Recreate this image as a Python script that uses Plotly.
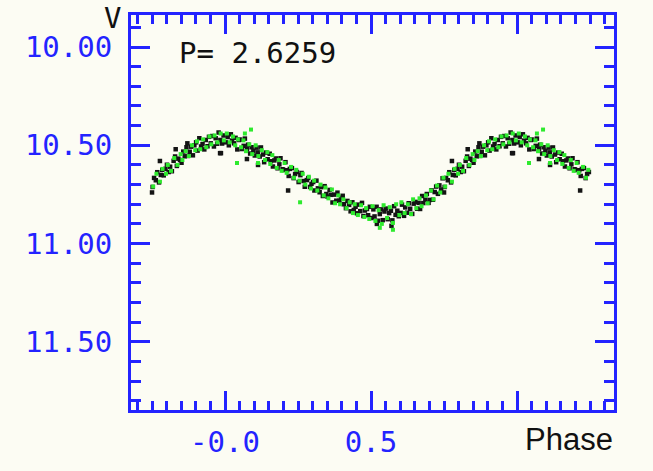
import numpy as np
import plotly.graph_objects as go

# Folded light curve (V magnitude vs phase), base phases in 0..1
black_phase = [
    0.003, 0.009, 0.013, 0.020, 0.024, 0.031, 0.036, 0.042, 0.047,
    0.052, 0.057, 0.064, 0.068, 0.075, 0.079, 0.086, 0.091, 0.097,
    0.102, 0.108, 0.112, 0.119, 0.123, 0.130, 0.134, 0.141, 0.146,
    0.153, 0.157, 0.164, 0.169, 0.174, 0.180, 0.186, 0.190, 0.197,
    0.201, 0.207, 0.213, 0.218, 0.222, 0.229, 0.235, 0.240, 0.246,
    0.252, 0.258, 0.262, 0.269, 0.273, 0.280, 0.285, 0.291, 0.296,
    0.302, 0.306, 0.313, 0.318, 0.324, 0.329, 0.335, 0.341, 0.347,
    0.351, 0.358, 0.363, 0.368, 0.374, 0.381, 0.385, 0.392, 0.397,
    0.403, 0.407, 0.414, 0.419, 0.425, 0.430, 0.436, 0.441, 0.447,
    0.452, 0.456, 0.463, 0.469, 0.474, 0.479, 0.486, 0.490, 0.496,
    0.503, 0.508, 0.512, 0.519, 0.524, 0.530, 0.535, 0.540, 0.546,
    0.551, 0.557, 0.562, 0.568, 0.573, 0.579, 0.584, 0.590, 0.595,
    0.602, 0.606, 0.613, 0.617, 0.624, 0.629, 0.634, 0.641, 0.646,
    0.652, 0.658, 0.663, 0.668, 0.675, 0.679, 0.686, 0.691, 0.697,
    0.701, 0.707, 0.712, 0.718, 0.723, 0.729, 0.734, 0.740, 0.745,
    0.752, 0.757, 0.763, 0.768, 0.774, 0.780, 0.785, 0.790, 0.796,
    0.801, 0.807, 0.812, 0.818, 0.824, 0.829, 0.835, 0.840, 0.846,
    0.851, 0.857, 0.862, 0.868, 0.873, 0.879, 0.884, 0.890, 0.895,
    0.901, 0.906, 0.912, 0.918, 0.923, 0.929, 0.934, 0.940, 0.945,
    0.951, 0.956, 0.962, 0.968, 0.973, 0.978, 0.984, 0.990, 0.995,
    0.831, 0.871, 0.777, 0.983, 0.750, 0.075, 0.216, 0.986, 0.113, 0.520, 0.570,
]
black_mag = [
    10.485, 10.458, 10.500, 10.444, 10.476, 10.490, 10.462, 10.521, 10.473,
    10.471, 10.519, 10.503, 10.466, 10.520, 10.497, 10.542, 10.510, 10.528,
    10.552, 10.512, 10.536, 10.557, 10.511, 10.547, 10.586, 10.537, 10.571,
    10.543, 10.581, 10.608, 10.577, 10.567, 10.617, 10.597, 10.566, 10.622,
    10.626, 10.586, 10.627, 10.656, 10.620, 10.616, 10.667, 10.646, 10.636,
    10.687, 10.652, 10.641, 10.682, 10.711, 10.677, 10.667, 10.712, 10.696,
    10.687, 10.730, 10.680, 10.719, 10.739, 10.713, 10.758, 10.708, 10.748,
    10.761, 10.727, 10.752, 10.791, 10.751, 10.782, 10.741, 10.782, 10.767,
    10.757, 10.800, 10.820, 10.783, 10.803, 10.836, 10.790, 10.829, 10.813,
    10.846, 10.802, 10.835, 10.793, 10.860, 10.832, 10.824, 10.856, 10.813,
    10.870, 10.826, 10.862, 10.813, 10.884, 10.850, 10.826, 10.881, 10.837,
    10.822, 10.876, 10.845, 10.833, 10.882, 10.810, 10.854, 10.833, 10.861,
    10.844, 10.802, 10.859, 10.816, 10.843, 10.795, 10.823, 10.849, 10.797,
    10.788, 10.823, 10.793, 10.824, 10.758, 10.794, 10.777, 10.748, 10.793,
    10.778, 10.729, 10.777, 10.738, 10.710, 10.747, 10.704, 10.725, 10.668,
    10.712, 10.666, 10.678, 10.637, 10.689, 10.651, 10.625, 10.653, 10.620,
    10.599, 10.636, 10.609, 10.632, 10.579, 10.557, 10.605, 10.568, 10.575,
    10.589, 10.532, 10.556, 10.510, 10.554, 10.533, 10.507, 10.551, 10.500,
    10.485, 10.527, 10.464, 10.506, 10.494, 10.521, 10.473, 10.505, 10.457,
    10.490, 10.453, 10.506, 10.464, 10.492, 10.435, 10.473, 10.491, 10.450,
    10.520, 10.490, 10.580, 10.540, 10.740, 10.570, 10.730, 10.540, 10.600, 10.900, 10.910,
]

green_phase = [
    0.006, 0.016, 0.027, 0.035, 0.044,
    0.055, 0.063, 0.072, 0.083, 0.093,
    0.105, 0.114, 0.126, 0.137, 0.145,
    0.155, 0.162, 0.177, 0.184, 0.194,
    0.204, 0.211, 0.226, 0.236, 0.244,
    0.255, 0.266, 0.275, 0.287, 0.294,
    0.305, 0.316, 0.327, 0.338, 0.344,
    0.354, 0.366, 0.377, 0.388, 0.394,
    0.405, 0.416, 0.427, 0.438, 0.444,
    0.455, 0.466, 0.477, 0.483, 0.494,
    0.505, 0.515, 0.526, 0.537, 0.543,
    0.555, 0.564, 0.575, 0.586, 0.597,
    0.604, 0.615, 0.626, 0.637, 0.644,
    0.655, 0.666, 0.673, 0.688, 0.694,
    0.705, 0.714, 0.726, 0.737, 0.748,
    0.754, 0.765, 0.777, 0.786, 0.798,
    0.804, 0.815, 0.826, 0.837, 0.848,
    0.854, 0.865, 0.876, 0.887, 0.898,
    0.904, 0.915, 0.925, 0.936, 0.947,
    0.953, 0.964, 0.974, 0.985, 0.996,
    0.041, 0.113, 0.257, 0.089, 0.575, 0.068, 0.530,
]
green_mag = [
    10.440, 10.485, 10.455, 10.500, 10.470,
    10.510, 10.475, 10.530, 10.495, 10.545,
    10.500, 10.555, 10.525, 10.575, 10.535,
    10.595, 10.550, 10.615, 10.575, 10.630,
    10.590, 10.640, 10.610, 10.665, 10.625,
    10.680, 10.645, 10.700, 10.660, 10.720,
    10.680, 10.730, 10.700, 10.755, 10.715,
    10.770, 10.725, 10.795, 10.755, 10.800,
    10.775, 10.820, 10.790, 10.845, 10.800,
    10.855, 10.805, 10.865, 10.820, 10.875,
    10.810, 10.885, 10.830, 10.900, 10.805,
    10.870, 10.815, 10.895, 10.800, 10.855,
    10.790, 10.845, 10.800, 10.850, 10.775,
    10.820, 10.770, 10.810, 10.755, 10.795,
    10.730, 10.775, 10.705, 10.740, 10.665,
    10.710, 10.645, 10.685, 10.620, 10.645,
    10.600, 10.630, 10.565, 10.600, 10.545,
    10.575, 10.530, 10.555, 10.500, 10.525,
    10.480, 10.520, 10.470, 10.510, 10.455,
    10.495, 10.450, 10.485, 10.440, 10.475,
    10.590, 10.590, 10.790, 10.420, 10.930, 10.440, 10.920,
]

y_tick_vals = [10.0, 10.5, 11.0, 11.5]
y_tick_text = ["10.00", "10.50", "11.00", "11.50"]
x_tick_vals = [0.0, 0.5, 1.0]
x_tick_text = ["-0.0", "0.5", ""]
period_label = "P= 2.6259"


def fold(ph, mag):
    ph = np.asarray(ph)
    mag = np.asarray(mag)
    lo = ph >= 0.75
    hi = ph < 0.25
    x = np.concatenate([ph, ph[lo] - 1.0, ph[hi] + 1.0])
    y = np.concatenate([mag, mag[lo], mag[hi]])
    return x, y


bx, by = fold(black_phase, black_mag)
gx, gy = fold(green_phase, green_mag)

BLUE = "#2323FF"
BG = "#FCFCF3"

fig = go.Figure()
fig.add_trace(go.Scatter(x=bx, y=by, mode="markers",
                         marker=dict(color="#141414", size=4.5, symbol="square"),
                         showlegend=False, hoverinfo="skip"))
fig.add_trace(go.Scatter(x=gx, y=gy, mode="markers",
                         marker=dict(color="#2EEA2E", size=4, symbol="square"),
                         showlegend=False, hoverinfo="skip"))

axis_common = dict(
    showline=True, linecolor=BLUE, linewidth=3, mirror="allticks",
    ticks="inside", tickcolor=BLUE, tickwidth=3, showgrid=False, zeroline=False,
)

fig.update_xaxes(
    range=[-0.322, 1.332], tickvals=x_tick_vals, ticktext=x_tick_text, ticklen=19,
    tickfont=dict(family="DejaVu Sans Mono", size=29, color=BLUE),
    minor=dict(ticks="inside", dtick=0.05, tick0=0, ticklen=9, tickwidth=3, tickcolor=BLUE),
    ticklabelstandoff=4,
    **axis_common,
)
fig.update_yaxes(
    range=[11.847, 9.837], tickvals=y_tick_vals, ticktext=y_tick_text, ticklen=19,
    tickfont=dict(family="DejaVu Sans Mono", size=29, color=BLUE),
    minor=dict(ticks="inside", dtick=0.1, tick0=10.0, ticklen=10, tickwidth=3, tickcolor=BLUE),
    ticklabelstandoff=10,
    **axis_common,
)

fig.add_annotation(text=period_label, xref="paper", yref="paper", x=0.095, y=0.904,
                   xanchor="left", yanchor="middle", showarrow=False,
                   font=dict(family="DejaVu Sans Mono", size=29, color="#111111"))
fig.add_annotation(text="Phase", xref="paper", yref="paper", x=1.002, y=-0.075,
                   xanchor="right", yanchor="middle", showarrow=False,
                   font=dict(family="Liberation Sans", size=31, color="#111111"))
fig.add_annotation(text="V", xref="paper", yref="paper", x=-0.039, y=1.0,
                   xanchor="center", yanchor="middle", yshift=-3, showarrow=False,
                   font=dict(family="DejaVu Sans Mono", size=29, color="#111111"))

fig.update_layout(
    width=653, height=471,
    margin=dict(l=131, r=39, t=15, b=61),
    paper_bgcolor=BG, plot_bgcolor=BG,
)

fig.write_html(
    "out.html",
    config={"displayModeBar": False},
    post_script="document.body.style.margin='0';document.body.style.background='#FCFCF3';",
)
